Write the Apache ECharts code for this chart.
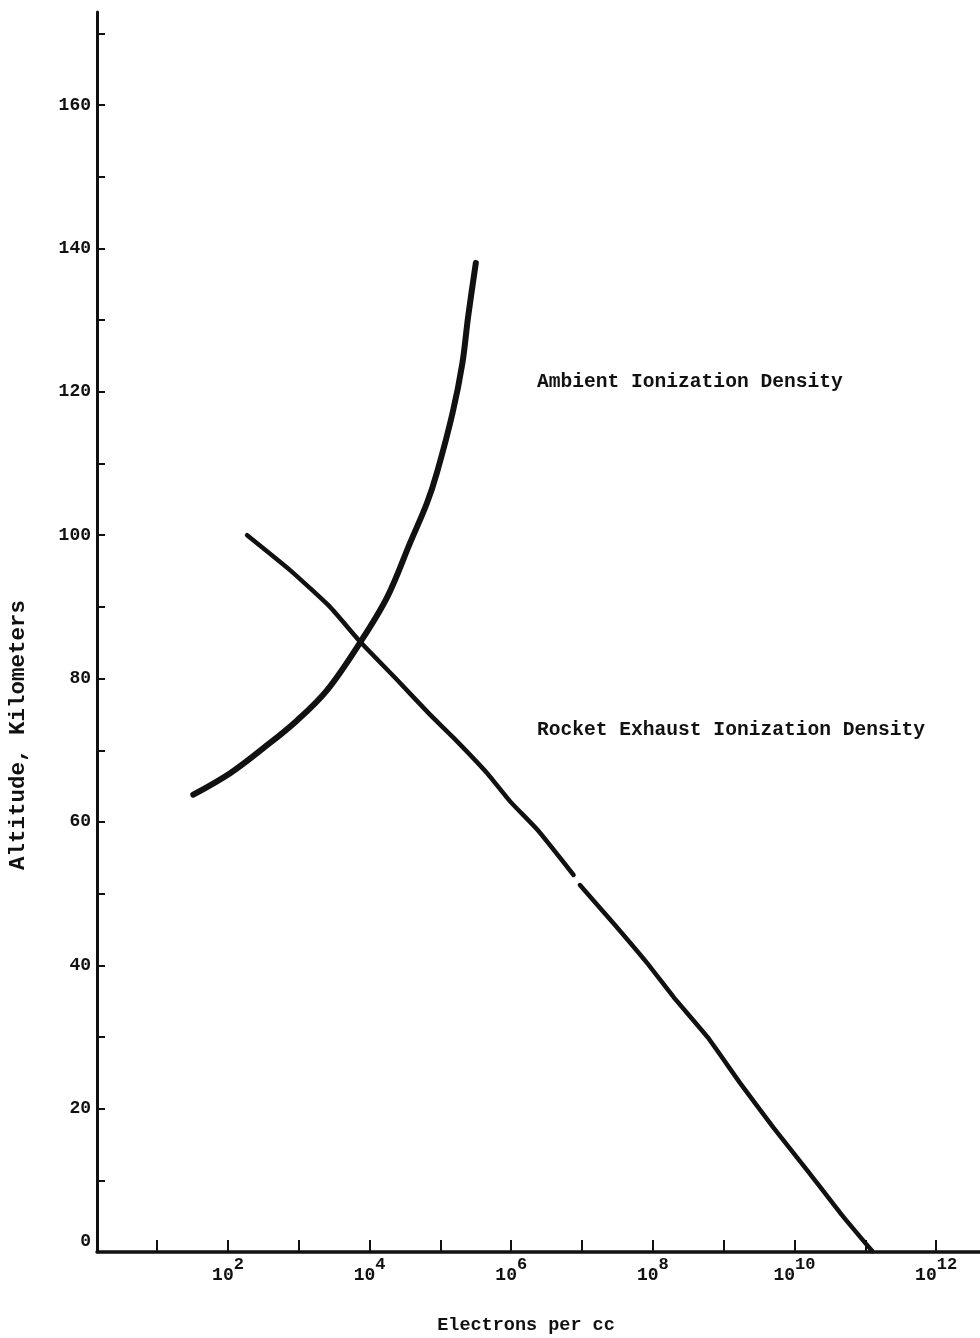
<!DOCTYPE html>
<html><head><meta charset="utf-8">
<script src="https://cdn.jsdelivr.net/npm/echarts@6/dist/echarts.min.js"></script>
<style>html,body{margin:0;padding:0;background:#fff}#c{width:980px;height:1338px}</style>
</head><body><div id="c"></div>
<script>
// x values are log10(electrons per cc)
const xTickExponents = [1,2,3,4,5,6,7,8,9,10,11,12];
const xLabelExponents = [2,4,6,8,10,12];
const yTickValues = [0,10,20,30,40,50,60,70,80,90,100,110,120,130,140,150,160,170];
const yLabelValues = [0,20,40,60,80,100,120,140,160];

const ambientLogDensity = [1.51,2.03,2.50,2.98,3.40,3.87,4.25,4.57,4.81,4.95,5.17,5.31,5.39,5.50];
const ambientAltitude   = [63.8,66.8,70.3,74.2,78.4,85.1,91.4,98.9,104.5,108.7,117.0,124.0,130.4,138.0];

const rocketUpperLogDensity = [2.27,2.88,3.44,3.87,4.39,4.86,5.18,5.66,5.99,6.37,6.88];
const rocketUpperAltitude   = [100.0,95.1,90.0,85.1,79.8,74.9,71.8,66.8,62.8,58.9,52.6];
const rocketLowerLogDensity = [6.97,7.44,7.92,8.29,8.77,9.23,9.70,10.18,10.65,11.10];
const rocketLowerAltitude   = [51.2,45.9,40.3,35.6,30.0,23.6,17.4,11.4,5.4,0.1];

const FONT = '"Liberation Mono", "DejaVu Sans Mono", monospace';
const INK = '#111';
function pairs(xs, ys){ return xs.map((x,i)=>[x, ys[i]]); }

const chart = echarts.init(document.getElementById('c'), null, {renderer:'canvas'});
chart.setOption({
  animation: false,
  backgroundColor: '#fff',
  grid: {left: 97, right: 0, top: 12, bottom: 86, containLabel: false},
  xAxis: {
    type: 'value', min: 0.15, max: 12.62,
    splitLine: {show: false},
    axisLine: {show: true, lineStyle: {color: INK, width: 3.5}},
    axisTick: {show: true, inside: true, length: 12, customValues: xTickExponents, lineStyle: {color: INK, width: 2}},
    axisLabel: {
      show: true, margin: 4, customValues: xLabelExponents,
      formatter: v => '{b|10}{s|' + v + '}',
      rich: {
        b: {fontFamily: FONT, fontWeight: 'bold', fontSize: 18, color: INK, verticalAlign: 'bottom'},
        s: {fontFamily: FONT, fontWeight: 'bold', fontSize: 17, color: INK, verticalAlign: 'top', padding: [0,0,11,0]}
      }
    }
  },
  yAxis: {
    type: 'value', min: 0, max: 173,
    splitLine: {show: false},
    axisLine: {show: true, lineStyle: {color: INK, width: 3}},
    axisTick: {show: true, inside: true, length: 8, customValues: yTickValues, lineStyle: {color: INK, width: 2}},
    axisLabel: {
      show: true, margin: 6, customValues: yLabelValues,
      formatter: v => v === 0 ? '{z|0}' : '{n|' + v + '}',
      rich: {
        n: {fontFamily: FONT, fontWeight: 'bold', fontSize: 18, color: INK},
        z: {fontFamily: FONT, fontWeight: 'bold', fontSize: 18, color: INK, padding: [0,0,22,0]}
      }
    }
  },
  series: [
    {type: 'line', name: 'Ambient Ionization Density', data: pairs(ambientLogDensity, ambientAltitude),
     smooth: 0.35, symbol: 'none', lineStyle: {color: INK, width: 6, cap: 'round', join: 'round'}},
    {type: 'line', name: 'Rocket Exhaust Ionization Density (upper)', data: pairs(rocketUpperLogDensity, rocketUpperAltitude),
     smooth: 0.15, symbol: 'none', lineStyle: {color: INK, width: 4.5, cap: 'round', join: 'round'}},
    {type: 'line', name: 'Rocket Exhaust Ionization Density (lower)', data: pairs(rocketLowerLogDensity, rocketLowerAltitude),
     smooth: 0.15, symbol: 'none', lineStyle: {color: INK, width: 4.5, cap: 'round', join: 'round'}}
  ],
  graphic: [
    {type: 'text', x: 537, y: 382, style: {text: 'Ambient Ionization Density', font: 'bold 19.6px ' + FONT, fill: INK, verticalAlign: 'middle', align: 'left'}},
    {type: 'text', x: 537, y: 730, style: {text: 'Rocket Exhaust Ionization Density', font: 'bold 19.6px ' + FONT, fill: INK, verticalAlign: 'middle', align: 'left'}},
    {type: 'text', x: 526, y: 1325, style: {text: 'Electrons per cc', font: 'bold 18.5px ' + FONT, fill: INK, verticalAlign: 'middle', align: 'center'}},
    {type: 'text', x: 18, y: 735, rotation: Math.PI / 2, style: {text: 'Altitude, Kilometers', font: 'bold 22.5px ' + FONT, fill: INK, verticalAlign: 'middle', align: 'center'}}
  ]
});
</script></body></html>
